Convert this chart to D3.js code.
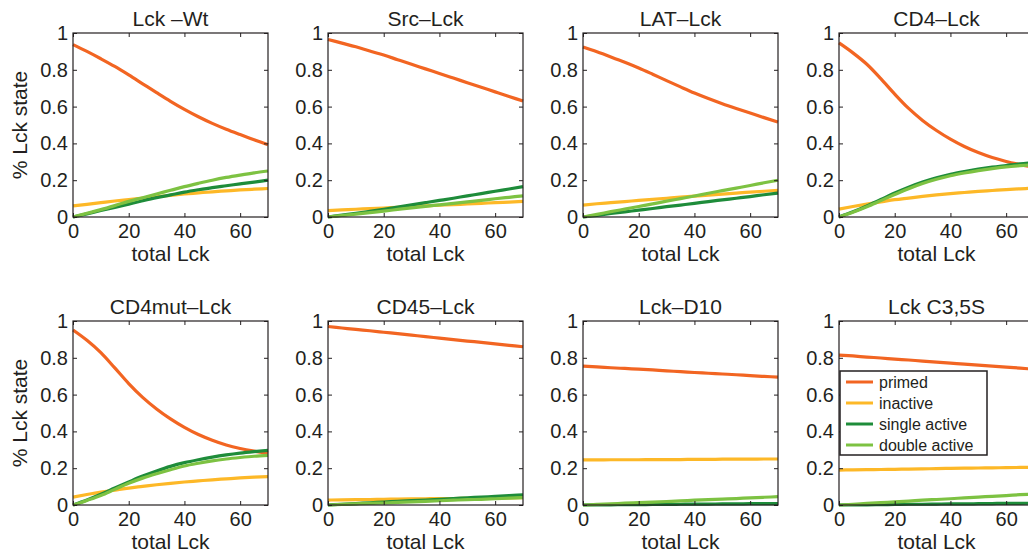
<!DOCTYPE html>
<html><head><meta charset="utf-8">
<script src="https://cdnjs.cloudflare.com/ajax/libs/d3/7.8.5/d3.min.js"></script>
<style>body{margin:0;background:#fff}svg{display:block}text{font-family:"Liberation Sans",Arial,Helvetica,sans-serif;fill:#231f20}</style>
</head><body><svg id="c" width="1028" height="554"></svg>
<script>
const panelTitles = ["Lck \u2013Wt","Src\u2013Lck","LAT\u2013Lck","CD4\u2013Lck","CD4mut\u2013Lck","CD45\u2013Lck","Lck\u2013D10","Lck C3,5S"];
const totalLck = [0,5,10,15,20,25,30,35,40,45,50,55,60,65,70];
const xTicks = [0,20,40,60];
const yTicks = [0,0.2,0.4,0.6,0.8,1];
const seriesNames = ["primed","inactive","single active","double active"];
const seriesColors = ["#f26522","#fdb827","#1e8c3a","#7dc242"];
const primed = [
  [0.937,0.9,0.86,0.818,0.772,0.724,0.676,0.629,0.585,0.545,0.509,0.477,0.448,0.42,0.392],
  [0.965,0.945,0.925,0.902,0.88,0.855,0.83,0.805,0.78,0.755,0.73,0.705,0.68,0.655,0.63],
  [0.924,0.898,0.87,0.841,0.81,0.776,0.741,0.707,0.674,0.644,0.616,0.59,0.565,0.54,0.516],
  [0.946,0.892,0.83,0.752,0.668,0.59,0.525,0.47,0.423,0.383,0.35,0.323,0.302,0.285,0.27],
  [0.951,0.895,0.828,0.745,0.66,0.585,0.522,0.468,0.422,0.383,0.352,0.326,0.307,0.293,0.282],
  [0.97,0.962,0.954,0.947,0.939,0.931,0.923,0.915,0.907,0.899,0.891,0.884,0.876,0.868,0.86],
  [0.755,0.751,0.746,0.742,0.738,0.734,0.729,0.725,0.72,0.716,0.712,0.708,0.703,0.699,0.695],
  [0.815,0.81,0.804,0.799,0.793,0.788,0.782,0.777,0.771,0.766,0.76,0.755,0.749,0.744,0.738]
];
const inactive = [
  [0.06,0.069,0.078,0.087,0.095,0.103,0.11,0.118,0.125,0.131,0.137,0.142,0.147,0.151,0.155],
  [0.035,0.039,0.042,0.046,0.049,0.053,0.056,0.06,0.064,0.067,0.071,0.074,0.078,0.081,0.085],
  [0.065,0.072,0.078,0.084,0.09,0.096,0.102,0.108,0.113,0.119,0.124,0.13,0.135,0.14,0.145],
  [0.043,0.057,0.07,0.082,0.094,0.103,0.112,0.12,0.127,0.133,0.139,0.144,0.149,0.153,0.157],
  [0.043,0.057,0.07,0.081,0.092,0.101,0.11,0.118,0.125,0.131,0.137,0.142,0.147,0.151,0.154],
  [0.027,0.028,0.029,0.03,0.031,0.032,0.033,0.034,0.035,0.035,0.036,0.037,0.038,0.039,0.04],
  [0.245,0.245,0.246,0.246,0.246,0.247,0.247,0.247,0.248,0.248,0.249,0.249,0.249,0.25,0.25],
  [0.19,0.191,0.192,0.193,0.194,0.195,0.196,0.198,0.199,0.2,0.201,0.202,0.203,0.204,0.205]
];
const singleActive = [
  [0,0.017,0.035,0.052,0.07,0.088,0.105,0.12,0.135,0.148,0.16,0.17,0.18,0.19,0.20],
  [0,0.01,0.02,0.031,0.042,0.054,0.066,0.078,0.09,0.102,0.115,0.127,0.14,0.152,0.165],
  [0,0.009,0.019,0.028,0.037,0.046,0.056,0.065,0.074,0.084,0.093,0.102,0.111,0.121,0.13],
  [0,0.028,0.06,0.095,0.13,0.162,0.19,0.213,0.232,0.247,0.26,0.271,0.28,0.289,0.296],
  [0,0.027,0.058,0.092,0.125,0.157,0.185,0.21,0.23,0.246,0.26,0.272,0.282,0.29,0.297],
  [0,0.004,0.008,0.012,0.016,0.02,0.024,0.027,0.031,0.035,0.039,0.043,0.047,0.051,0.055],
  [0,0.001,0.001,0.002,0.002,0.003,0.003,0.004,0.005,0.005,0.006,0.006,0.007,0.007,0.008],
  [0,0.001,0.001,0.002,0.003,0.004,0.004,0.005,0.006,0.006,0.007,0.008,0.009,0.009,0.01]
];
const doubleActive = [
  [0,0.02,0.04,0.062,0.085,0.105,0.125,0.145,0.165,0.183,0.20,0.215,0.228,0.24,0.25],
  [0,0.008,0.016,0.024,0.032,0.041,0.05,0.058,0.066,0.074,0.082,0.09,0.099,0.107,0.115],
  [0,0.014,0.029,0.043,0.057,0.071,0.086,0.1,0.114,0.129,0.143,0.157,0.171,0.186,0.2],
  [0,0.026,0.056,0.089,0.122,0.154,0.182,0.205,0.224,0.239,0.252,0.263,0.272,0.279,0.285],
  [0,0.025,0.052,0.085,0.118,0.146,0.17,0.192,0.212,0.227,0.24,0.25,0.258,0.265,0.27],
  [0,0.003,0.006,0.009,0.011,0.014,0.017,0.02,0.023,0.026,0.029,0.031,0.034,0.037,0.04],
  [0,0.003,0.006,0.01,0.013,0.016,0.019,0.022,0.026,0.029,0.032,0.035,0.039,0.042,0.045],
  [0,0.004,0.009,0.013,0.017,0.021,0.026,0.03,0.034,0.039,0.043,0.047,0.051,0.056,0.06]
];

const svg = d3.select("#c");
const colLeft = [73,328,583,839];
const rowTop = [33,321];
const pw = 195, ph = 184;
const allSeries = [primed, inactive, singleActive, doubleActive];
const FONT = "Liberation Sans, Arial, sans-serif";

panelTitles.forEach((title, i) => {
  const col = i % 4, row = Math.floor(i / 4);
  const x0 = colLeft[col], y0 = rowTop[row];
  const x = d3.scaleLinear().domain([0,70]).range([x0, x0 + pw]);
  const y = d3.scaleLinear().domain([0,1]).range([y0 + ph, y0]);
  const g = svg.append("g");

  const line = d3.line().x((d,k) => x(totalLck[k])).y(d => y(d)).curve(d3.curveMonotoneX);
  allSeries.forEach((s, si) => {
    g.append("path").attr("d", line(s[i])).attr("fill","none")
      .attr("stroke", seriesColors[si]).attr("stroke-width", 3.2).attr("stroke-linecap","butt");
  });

  const ax = (gen, tr) => g.append("g").attr("transform", tr).call(gen)
      .call(a => a.select(".domain").remove())
      .call(a => a.selectAll("line").attr("stroke","#231f20").attr("stroke-width",1));
  ax(d3.axisBottom(x).tickValues(xTicks).tickSize(-4).tickPadding(7).tickFormat(d3.format("d")), `translate(0,${y0+ph})`)
    .selectAll("text").attr("font-size",20).attr("fill","#231f20").attr("font-family",FONT);
  ax(d3.axisTop(x).tickValues(xTicks).tickSize(-4).tickFormat(""), `translate(0,${y0})`);
  ax(d3.axisLeft(y).tickValues(yTicks).tickSize(-4).tickPadding(5).tickFormat(d => d === 0 || d === 1 ? String(d) : d3.format(".1f")(d)), `translate(${x0},0)`)
    .selectAll("text").attr("font-size",20).attr("fill","#231f20").attr("font-family",FONT);
  ax(d3.axisRight(y).tickValues(yTicks).tickSize(-4).tickFormat(""), `translate(${x0+pw},0)`);
  g.append("rect").attr("x",x0).attr("y",y0).attr("width",pw).attr("height",ph)
    .attr("fill","none").attr("stroke","#231f20").attr("stroke-width",1.2);

  g.append("text").attr("x", x0 + pw/2).attr("y", y0 - 7).attr("text-anchor","middle")
    .attr("font-size",21).text(title);
  g.append("text").attr("x", x0 + pw/2).attr("y", y0 + ph + 44).attr("text-anchor","middle")
    .attr("font-size",21).text("total Lck");
  if (col === 0) {
    g.append("text").attr("transform", `translate(${x0-46},${y0+ph/2}) rotate(-90)`)
      .attr("text-anchor","middle").attr("font-size",21).text("% Lck state");
  }

  if (i === 7) {
    const lg = g.append("g");
    const lx = x0 + 1, ly = 371, lw = 147, lh = 84;
    lg.append("rect").attr("x", lx).attr("y", ly).attr("width", lw).attr("height", lh)
      .attr("fill","#fff").attr("stroke","#231f20").attr("stroke-width",1.5);
    seriesNames.forEach((n, k) => {
      const yy = ly + 11 + k * 21;
      lg.append("line").attr("x1", lx + 6).attr("x2", lx + 33).attr("y1", yy).attr("y2", yy)
        .attr("stroke", seriesColors[k]).attr("stroke-width", 3);
      lg.append("text").attr("x", lx + 39).attr("y", yy + 6).attr("font-size", 16).text(n);
    });
  }
});
</script></body></html>
